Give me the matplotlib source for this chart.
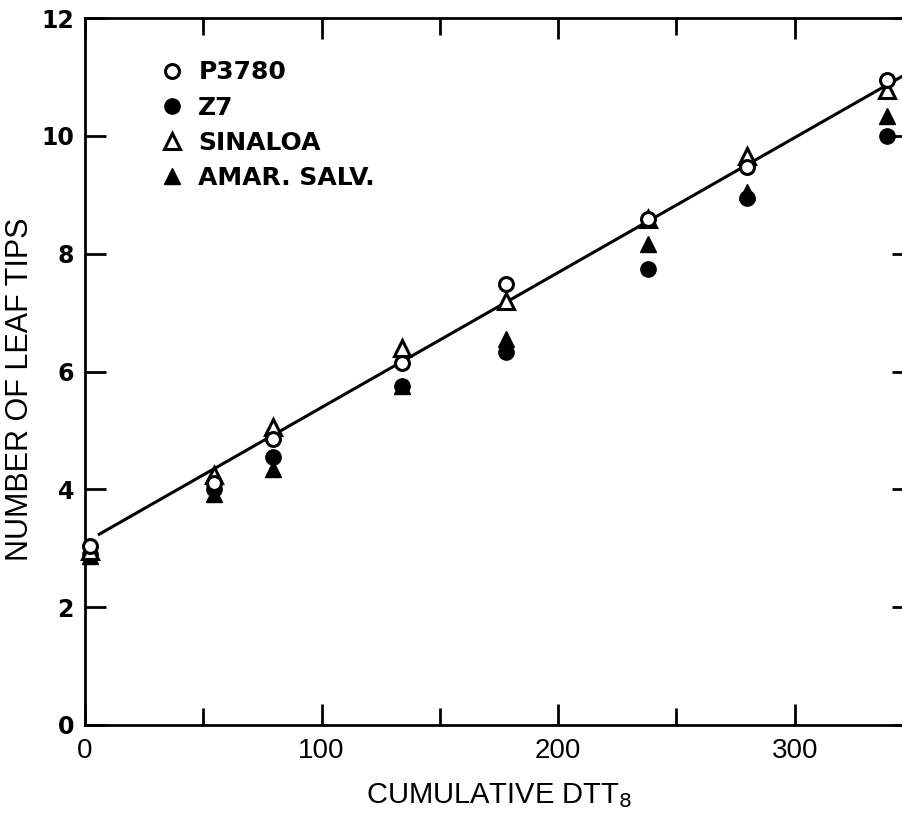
import matplotlib.pyplot as plt
import numpy as np

# cumulative DTT8 at each sampling date
dtt = [2, 54.5, 79.5, 134, 178, 238, 280, 339]

p3780 = [3.03, 4.10, 4.85, 6.15, 7.48, 8.59, 9.47, 10.94]
z7 = [2.90, 4.00, 4.55, 5.75, 6.33, 7.74, 8.95, 10.00]
sinaloa = [2.95, 4.25, 5.05, 6.40, 7.20, 8.59, 9.66, 10.77]
amar_salv = [2.86, 3.92, 4.35, 5.75, 6.55, 8.16, 9.05, 10.34]

# fitted line
fit_intercept = 3.1
fit_slope = 0.0229
fit_range = [6, 360]

fig = plt.figure(figsize=(9.02, 8.24), dpi=100)
ax = fig.add_axes([85 / 902, 99 / 824, 828 / 902, 707 / 824])

xl = np.array(fit_range)
ax.plot(xl, fit_intercept + fit_slope * xl, color='black', lw=2.2, zorder=1, clip_on=False)

ms = 11
ax.plot(dtt, z7, 'o', color='black', ms=ms, ls='none', zorder=2, label='Z7', clip_on=False)
ax.plot(dtt, amar_salv, '^', color='black', ms=ms + 1, ls='none', zorder=3, label='AMAR. SALV.', clip_on=False)
ax.plot(dtt, sinaloa, '^', mfc='white', mec='black', mew=2.2, ms=ms + 1, ls='none', zorder=4,
        label='SINALOA', clip_on=False)
ax.plot(dtt, p3780, 'o', mfc='white', mec='black', mew=2.2, ms=ms - 1, ls='none', zorder=5,
        label='P3780', clip_on=False)

handles, labels = ax.get_legend_handles_labels()
order = [3, 0, 2, 1]
leg = ax.legend([handles[i] for i in order], [labels[i] for i in order],
                loc='upper left', bbox_to_anchor=(0.09, 0.94), frameon=False,
                borderpad=0, borderaxespad=0,
                handlelength=1.0, handletextpad=0.55, labelspacing=0.45,
                prop={'family': 'DejaVu Sans', 'weight': 'bold', 'size': 18})

ax.set_xlim(0, 350)
ax.set_ylim(0, 12)
ax.set_xticks([0, 100, 200, 300])
ax.set_xticks([50, 150, 250], minor=True)
ax.set_yticks([0, 2, 4, 6, 8, 10, 12])

for s in ax.spines.values():
    s.set_linewidth(2)
ax.tick_params(which='both', direction='in', top=True, right=True, width=2)
ax.tick_params(which='major', length=15)
ax.tick_params(which='minor', length=12)
ax.tick_params(axis='x', pad=9)
ax.tick_params(axis='y', labelsize=17, pad=8)
for t in ax.get_yticklabels():
    t.set_fontweight('bold')
for t in ax.get_xticklabels():
    t.set_family('Liberation Sans')
    t.set_fontsize(20)

ax.set_ylabel('NUMBER OF LEAF TIPS', fontsize=22, family='Liberation Sans')
ax.yaxis.set_label_coords(-0.06, 0.475)
ax.set_xlabel('CUMULATIVE DTT$_8$', fontsize=21, family='Liberation Sans')
ax.xaxis.set_label_coords(0.50, -0.08)

fig.savefig('out.png', dpi=100)
